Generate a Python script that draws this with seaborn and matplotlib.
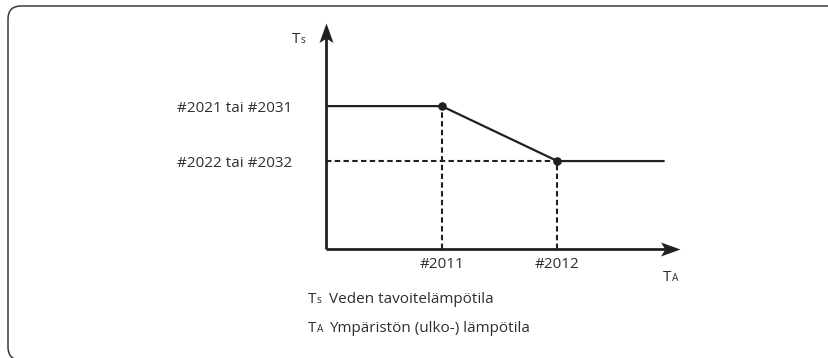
import matplotlib
matplotlib.use("Agg")
import matplotlib.pyplot as plt
import seaborn as sns
import pandas as pd
from matplotlib.path import Path
from matplotlib.patches import FancyBboxPatch
from matplotlib.transforms import Affine2D, IdentityTransform

# Schematic heating curve: outdoor temperature T_A against water target T_S
curve_ta = [0.0, 1.0, 2.0, 2.92]
curve_ts = [3.25, 3.25, 2.0, 2.0]
knee_ta = [1.0, 2.0]
knee_ts = [3.25, 2.0]
ta_tick_labels = ["#2011", "#2012"]
ts_tick_labels = ["#2021 tai #2031", "#2022 tai #2032"]
legend_symbols = [("T", "s"), ("T", "A")]
legend_texts = ["Veden tavoitelämpötila", "Ympäristön (ulko-) lämpötila"]

W, H = 829, 358
INK = "#231f20"
TXT = "#2e2e2e"
FS = 11

sns.set_theme(style="white")
plt.rcParams["font.family"] = ["Open Sans", "DejaVu Sans"]

fig = plt.figure(figsize=(W / 100, H / 100), dpi=100, facecolor="white")
renderer = fig.canvas.get_renderer()

# pixel coordinates measured from the top-left corner
px = Affine2D().scale(1, -1).translate(0, H)

# rounded frame, open on the right
frame = FancyBboxPatch((8, -2), 900, H - 6 + 2,
                       boxstyle="round,pad=0,rounding_size=13",
                       transform=IdentityTransform(), fill=False,
                       edgecolor="#3a3a3a", linewidth=1.1)
fig.add_artist(frame)

ax = fig.add_axes([326 / W, (H - 249) / H, (680 - 326) / W, (249 - 23) / H])
ax.set_xlim(0, 3.06)
ax.set_ylim(0, 5.14)
ax.set_facecolor("none")
for s in ax.spines.values():
    s.set_visible(False)

df = pd.DataFrame({"ta": curve_ta, "ts": curve_ts})
knees = pd.DataFrame({"ta": knee_ta, "ts": knee_ts})

# dashed guides to the axes
dash = (0, (2.6, 1.6))
ax.vlines(knees["ta"], 0, knees["ts"], colors=INK, linewidth=1.5,
          linestyles=[dash])
ax.hlines(knees["ts"].iloc[1], 0, knees["ta"].iloc[1], colors=INK,
          linewidth=1.5, linestyles=[dash])

sns.lineplot(data=df, x="ta", y="ts", ax=ax, color=INK, linewidth=1.6,
             estimator=None, sort=False)
sns.scatterplot(data=knees, x="ta", y="ts", ax=ax, color=INK, s=38,
                edgecolor=INK, linewidth=0, zorder=5)

# axis lines with stealth arrow heads
up = Path([(0, 0), (0.36, -1), (0, -0.78), (-0.36, -1), (0, 0)],
          [Path.MOVETO, Path.LINETO, Path.LINETO, Path.LINETO, Path.CLOSEPOLY])
right = Path([(0, 0), (-1, 0.36), (-0.78, 0), (-1, -0.36), (0, 0)],
             [Path.MOVETO, Path.LINETO, Path.LINETO, Path.LINETO, Path.CLOSEPOLY])
ax.plot([0, 0], [0, 0.97], transform=ax.transAxes, color=INK, lw=2.0,
        clip_on=False, solid_capstyle="butt")
ax.plot([0, 0.97], [0, 0], transform=ax.transAxes, color=INK, lw=2.0,
        clip_on=False, solid_capstyle="butt")
ax.plot([0], [1], marker=up, markersize=28, color=INK, mew=0,
        transform=ax.transAxes, clip_on=False)
ax.plot([1], [0], marker=right, markersize=28, color=INK, mew=0,
        transform=ax.transAxes, clip_on=False)

ax.set_xticks(knee_ta, ta_tick_labels)
ax.set_yticks(knee_ts, ts_tick_labels)
ax.tick_params(axis="both", length=0, labelsize=FS, labelcolor=TXT)
ax.tick_params(axis="x", pad=6)
ax.tick_params(axis="y", pad=24)
ax.set_xlabel("")
ax.set_ylabel("")


def symbol(x, y, main, sub):
    t = fig.text(x, y, main, transform=px, fontsize=FS, color=TXT,
                 ha="left", va="baseline")
    w = t.get_window_extent(renderer).width
    fig.text(x + w + 0.5, y, sub, transform=px, fontsize=FS * 0.66,
             color=TXT, ha="left", va="baseline")
    return t


# axis symbols
symbol(292, 43, "T", "s")
symbol(663, 281, "T", "A")

# key below the chart
for i, ((m, s), label) in enumerate(zip(legend_symbols, legend_texts)):
    yb = 303 + 29 * i
    symbol(308, yb, m, s)
    fig.text(329, yb, label, transform=px, fontsize=FS, color=TXT,
             ha="left", va="baseline")

fig.savefig("out.png", dpi=100, facecolor="white")
